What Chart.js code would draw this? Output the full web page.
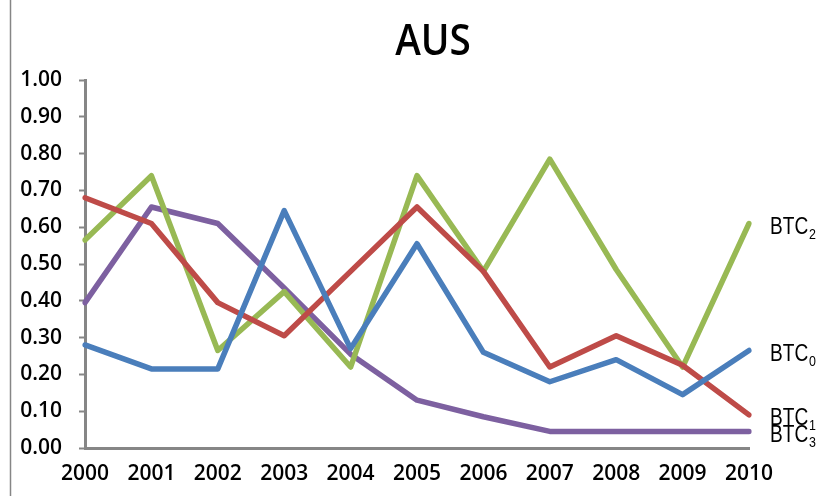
<!DOCTYPE html>
<html>
<head>
<meta charset="utf-8">
<script src="https://cdn.jsdelivr.net/npm/chart.js@4/dist/chart.umd.min.js"></script>
<style>
  html, body { margin: 0; padding: 0; background: #ffffff; }
  #wrap { width: 829px; height: 496px; position: relative; }
</style>
</head>
<body>
<div id="wrap"><canvas id="c" width="829" height="496"></canvas></div>
<script>
// Years on the horizontal axis
const years = ['2000','2001','2002','2003','2004','2005','2006','2007','2008','2009','2010'];

// Series values
const btc0 = [0.28, 0.215, 0.215, 0.645, 0.27, 0.555, 0.26, 0.18, 0.24, 0.145, 0.265];
const btc1 = [0.68, 0.61, 0.395, 0.305, 0.48, 0.655, 0.48, 0.22, 0.305, 0.225, 0.09];
const btc2 = [0.565, 0.74, 0.265, 0.425, 0.22, 0.74, 0.48, 0.785, 0.485, 0.22, 0.61];
const btc3 = [0.395, 0.655, 0.61, 0.435, 0.255, 0.13, 0.085, 0.045, 0.045, 0.045, 0.045];

// Series label pieces: base text and subscript
const seriesBase = ['BTC', 'BTC', 'BTC', 'BTC'];
const seriesSub = ['0', '1', '2', '3'];

const chartTitle = 'AUS';
const AXIS_GRAY = '#868686';
const TICK_FONT = '"Open Sans", Lato, sans-serif';

// Draws the title, outer frame and the end-of-line series labels
const decorations = {
  id: 'decorations',
  afterDraw(chart) {
    const ctx = chart.ctx;
    ctx.save();
    // chart frame (left edge)
    ctx.strokeStyle = AXIS_GRAY;
    ctx.lineWidth = 1.5;
    ctx.beginPath();
    ctx.moveTo(10.5, 0);
    ctx.lineTo(10.5, 496);
    ctx.stroke();

    // title, slightly condensed
    ctx.save();
    ctx.translate(433, 42);
    ctx.scale(0.88, 1);
    ctx.fillStyle = '#000000';
    ctx.font = '600 44px "Open Sans", Lato, sans-serif';
    ctx.textAlign = 'center';
    ctx.textBaseline = 'middle';
    ctx.fillText(chartTitle, 0, 0);
    ctx.restore();

    // series labels at the last point of each line, in a narrow face
    chart.data.datasets.forEach((ds, i) => {
      const meta = chart.getDatasetMeta(i);
      const pt = meta.data[meta.data.length - 1];
      ctx.save();
      ctx.translate(pt.x + 21, pt.y + 4);
      ctx.scale(0.83, 1);
      ctx.textAlign = 'left';
      ctx.textBaseline = 'middle';
      ctx.fillStyle = '#000000';
      ctx.font = '23px "Liberation Sans", Arial, sans-serif';
      ctx.fillText(seriesBase[i], 0, 0);
      const w = ctx.measureText(seriesBase[i]).width;
      ctx.font = '15px "Liberation Sans", Arial, sans-serif';
      ctx.fillText(seriesSub[i], w + 1, 7);
      ctx.restore();
    });
    ctx.restore();
  }
};

const lineStyle = (color) => ({
  borderColor: color,
  backgroundColor: color,
  borderWidth: 5.5,
  pointRadius: 0,
  pointHoverRadius: 0,
  tension: 0,
  fill: false,
  borderJoinStyle: 'round',
  borderCapStyle: 'round'
});

new Chart(document.getElementById('c'), {
  type: 'line',
  data: {
    labels: years,
    datasets: [
      Object.assign({ label: 'BTC0', data: btc0 }, lineStyle('#4A7EBB')),
      Object.assign({ label: 'BTC1', data: btc1 }, lineStyle('#BE4B48')),
      Object.assign({ label: 'BTC2', data: btc2 }, lineStyle('#98B954')),
      Object.assign({ label: 'BTC3', data: btc3 }, lineStyle('#7D60A0'))
    ]
  },
  options: {
    responsive: false,
    animation: false,
    layout: { padding: { top: 80, right: 80, left: 0, bottom: 0 } },
    plugins: {
      legend: { display: false },
      title: { display: false },
      tooltip: { enabled: false }
    },
    scales: {
      x: {
        offset: false,
        grid: { display: true, drawOnChartArea: false, drawTicks: false },
        border: { color: AXIS_GRAY, width: 3 },
        ticks: {
          color: '#000000',
          padding: 13,
          maxRotation: 0,
          autoSkip: false,
          font: { family: TICK_FONT, size: 21, weight: '600' }
        },
        afterFit(scale) { scale.height = 48; }
      },
      y: {
        min: 0,
        max: 1,
        grid: { display: true, drawOnChartArea: false, drawTicks: true, tickLength: 6, color: AXIS_GRAY, tickWidth: 2 },
        border: { color: AXIS_GRAY, width: 3 },
        ticks: {
          stepSize: 0.1,
          color: '#000000',
          padding: 17,
          font: { family: TICK_FONT, size: 21, weight: '600' },
          callback: (v) => Number(v).toFixed(2)
        },
        afterFit(scale) { scale.width = 85; }
      }
    }
  },
  plugins: [decorations]
});
</script>
</body>
</html>
